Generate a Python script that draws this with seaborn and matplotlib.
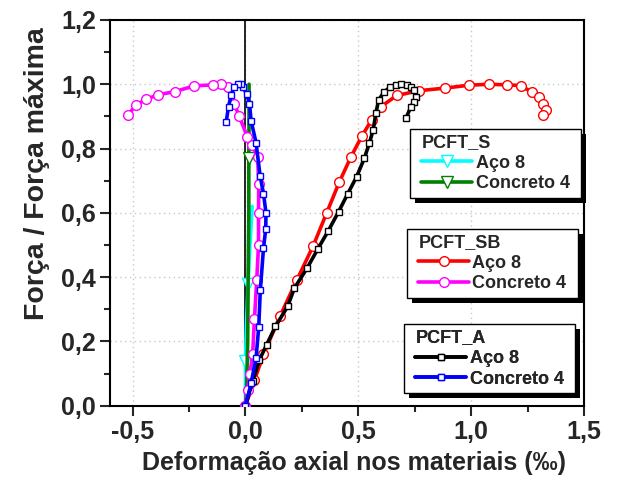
import matplotlib
matplotlib.use("Agg")
import matplotlib.pyplot as plt
from matplotlib.lines import Line2D
from matplotlib.patches import Rectangle
from matplotlib.ticker import MultipleLocator, FuncFormatter
import seaborn as sns

# PCFT_S
s_aco_x = [0.0, 0.0, 0.005, 0.012, 0.02, 0.03]
s_aco_y = [0.0, 0.14, 0.26, 0.38, 0.50, 0.62]
s_conc_x = [0.0, 0.005, 0.01, 0.012, 0.015, 0.015, 0.016, 0.016]
s_conc_y = [0.0, 0.05, 0.20, 0.40, 0.60, 0.77, 0.90, 1.0]

# PCFT_SB
sb_aco_x = [0.0, 0.04, 0.08, 0.153, 0.227, 0.30, 0.36, 0.416, 0.468, 0.516, 0.56,
            0.60, 0.67, 0.77, 0.885, 0.99, 1.08, 1.16, 1.22, 1.27, 1.30, 1.32, 1.33, 1.32]
sb_aco_y = [0.0, 0.08, 0.16, 0.278, 0.39, 0.497, 0.60, 0.696, 0.775, 0.839, 0.89,
            0.93, 0.965, 0.98, 0.988, 0.997, 1.0, 0.998, 0.996, 0.975, 0.96, 0.94, 0.92, 0.905]
sb_conc_x = [0.0, 0.01, 0.02, 0.032, 0.04, 0.05, 0.058, 0.058, 0.059, 0.054, 0.03,
             0.008, -0.027, -0.05, -0.078, -0.108, -0.145, -0.226, -0.314, -0.388,
             -0.44, -0.484, -0.52]
sb_conc_y = [0.0, 0.05, 0.10, 0.16, 0.27, 0.39, 0.50, 0.60, 0.69, 0.775, 0.81,
             0.837, 0.90, 0.94, 0.99, 1.0, 0.998, 0.995, 0.977, 0.967,
             0.953, 0.936, 0.905]

# PCFT_A
a_aco_x = [0.0, 0.032, 0.062, 0.094, 0.133, 0.187, 0.217, 0.273, 0.32, 0.367, 0.413,
           0.453, 0.493, 0.527, 0.549, 0.566, 0.578, 0.59, 0.615, 0.64, 0.667, 0.69,
           0.717, 0.735, 0.748, 0.755, 0.745, 0.733, 0.711]
a_aco_y = [0.0, 0.076, 0.143, 0.19, 0.247, 0.309, 0.366, 0.428, 0.487, 0.544, 0.604,
           0.659, 0.713, 0.77, 0.817, 0.858, 0.91, 0.951, 0.977, 0.99, 0.998, 1.0,
           0.998, 0.99, 0.982, 0.961, 0.945, 0.93, 0.894]
a_conc_x = [0.0, 0.025, 0.047, 0.059, 0.066, 0.08, 0.09, 0.091, 0.08, 0.065, 0.047,
            0.025, 0.018, 0.005, -0.01, -0.02, -0.035, -0.05, -0.063, -0.075, -0.085]
a_conc_y = [0.0, 0.07, 0.148, 0.246, 0.36, 0.49, 0.55, 0.60, 0.66, 0.715, 0.818,
            0.887, 0.94, 0.97, 0.99, 1.0, 1.0, 0.99, 0.967, 0.93, 0.884]

# (label, x, y, colour, marker, marker size, which points carry a marker)
groups = [
    ("PCFT_S", [("Aço 8", s_aco_x, s_aco_y, "#00FFFF", "v", 9, [1, 3]),
                ("Concreto 4", s_conc_x, s_conc_y, "#008000", "v", 9, [5])]),
    ("PCFT_SB", [("Aço 8", sb_aco_x, sb_aco_y, "#FF0000", "o", 7, None),
                 ("Concreto 4", sb_conc_x, sb_conc_y, "#FF00FF", "o", 7, None)]),
    ("PCFT_A", [("Aço 8", a_aco_x, a_aco_y, "#000000", "s", 5, None),
                ("Concreto 4", a_conc_x, a_conc_y, "#0000FF", "s", 5, None)]),
]

sns.set_style("ticks")
plt.rcParams["font.family"] = ["Liberation Sans", "DejaVu Sans"]
plt.rcParams["font.weight"] = "bold"

fig = plt.figure(figsize=(6.18, 4.86), dpi=100)
ax = fig.add_axes([0.178, 0.165, 0.767, 0.794])

ax.axvline(0, color="black", lw=1.2, zorder=1.5)

for title, series in groups:
    for label, xs, ys, color, mk, ms, every in series:
        sns.lineplot(x=xs, y=ys, sort=False, estimator=None, ax=ax, color=color,
                     lw=2.6, marker=mk, markersize=ms, markerfacecolor="white",
                     markeredgecolor=color, markeredgewidth=1.0, markevery=every,
                     zorder=3)

ax.set_xlim(-0.6, 1.5)
ax.set_ylim(0.0, 1.2)
ax.xaxis.set_major_locator(MultipleLocator(0.5))
ax.xaxis.set_minor_locator(MultipleLocator(0.25))
ax.yaxis.set_major_locator(MultipleLocator(0.2))
ax.yaxis.set_minor_locator(MultipleLocator(0.1))
comma = FuncFormatter(lambda v, p: f"{v:.1f}".replace(".", ","))
ax.xaxis.set_major_formatter(comma)
ax.yaxis.set_major_formatter(comma)
ax.grid(True, which="major", color="#c8c8c8", ls=(0, (1, 2.5)), lw=1.0)
ax.set_axisbelow(True)

for sp in ax.spines.values():
    sp.set_visible(True)
    sp.set_linewidth(1.5)
    sp.set_color("black")
ax.tick_params(which="major", direction="out", length=7, width=1.5,
               labelsize=18, pad=3, top=False, right=False)
ax.tick_params(which="minor", direction="out", length=4, width=1.5,
               top=False, right=False)
for t in ax.get_xticklabels() + ax.get_yticklabels():
    t.set_fontweight("bold")

ax.set_xlabel("Deformação axial nos materiais (‰)", fontsize=18, fontweight="bold")
ax.set_ylabel("Força / Força máxima", fontsize=20.5, fontweight="bold")
ax.xaxis.set_label_coords(0.515, -0.118)
ax.yaxis.set_label_coords(-0.127, 0.602)

anchors = [(0.6456, 0.718), (0.639, 0.459), (0.633, 0.212)]
legends = []
for (title, series), anchor in zip(groups, anchors):
    handles = [Line2D([], [], color=c, lw=2.6, marker=mk, markersize=ms,
                      markerfacecolor="white", markeredgecolor=c,
                      markeredgewidth=1.0)
               for _, _, _, c, mk, ms, _ in series]
    labels = [s[0] for s in series]
    leg = ax.legend(handles, labels, title=title, loc="upper left",
                    bbox_to_anchor=anchor, borderaxespad=0, frameon=False,
                    prop={"size": 13, "weight": "bold"},
                    title_fontproperties={"size": 13, "weight": "bold"},
                    alignment="left", handlelength=2.8, handletextpad=0.2,
                    labelspacing=0.2, borderpad=0.3)
    leg.set_zorder(6)
    ax.add_artist(leg)
    legends.append(leg)

# Framed boxes with a solid drop shadow behind each legend
fig.canvas.draw()
inv = ax.transAxes.inverted()
for leg in legends:
    bb = leg.get_window_extent()
    for dx, dy, fc, ec, z in [(5, -5, "black", "none", 5.5),
                              (0, 0, "white", "black", 5.8)]:
        (x0, y0), (x1, y1) = inv.transform([[bb.x0 - 6 + dx, bb.y0 + dy],
                                            [bb.x1 + 6 + dx, bb.y1 + dy]])
        ax.add_patch(Rectangle((x0, y0), x1 - x0, y1 - y0, transform=ax.transAxes,
                               facecolor=fc, edgecolor=ec, lw=1.0, zorder=z,
                               clip_on=False))

fig.savefig("out.png", dpi=100)
